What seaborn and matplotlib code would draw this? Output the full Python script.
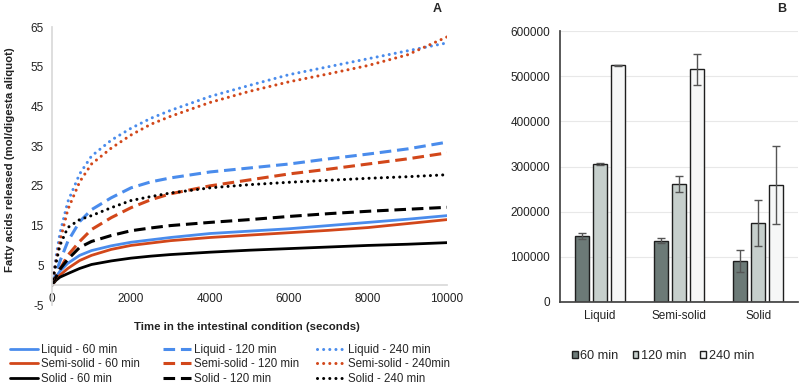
import matplotlib
matplotlib.use("Agg")
import matplotlib.pyplot as plt
import seaborn as sns
import pandas as pd
import numpy as np

# ---------------- Panel A data ----------------
time_s = [0, 100, 200, 400, 700, 1000, 1500, 2000, 2500, 3000, 4000, 5000,
          6000, 7000, 8000, 9000, 10000]

liquid_60 = [0, 2.0, 3.5, 5.5, 7.5, 8.7, 9.9, 10.8, 11.4, 12.0, 13.0, 13.6,
             14.2, 15.0, 15.8, 16.6, 17.5]
semisolid_60 = [0, 1.5, 2.5, 4.2, 6.2, 7.5, 9.0, 10.0, 10.6, 11.2, 12.0, 12.6,
                13.2, 13.8, 14.5, 15.5, 16.5]
solid_60 = [0, 1.2, 2.0, 2.9, 4.2, 5.2, 6.1, 6.8, 7.3, 7.7, 8.3, 8.8,
            9.2, 9.6, 10.0, 10.3, 10.7]

liquid_120 = [0, 3.0, 6.0, 11.0, 16.0, 19.0, 22.0, 24.5, 26.0, 27.0, 28.5, 29.5,
              30.5, 31.8, 33.0, 34.3, 36.0]
semisolid_120 = [0, 2.0, 4.0, 7.5, 11.0, 14.0, 17.0, 19.5, 21.5, 23.0, 25.0, 26.5,
                 28.0, 29.2, 30.5, 31.8, 33.3]
solid_120 = [0, 2.0, 4.0, 6.5, 9.5, 11.0, 12.5, 13.7, 14.4, 15.0, 15.8, 16.5,
             17.3, 18.0, 18.6, 19.1, 19.6]

liquid_240 = [0, 7.0, 13.0, 21.0, 28.0, 32.5, 36.5, 39.5, 42.0, 44.0, 47.5, 50.3,
              53.0, 55.0, 57.0, 59.0, 61.0]
semisolid_240 = [0, 6.0, 11.0, 19.0, 26.0, 30.5, 34.5, 37.8, 40.5, 42.5, 46.0, 48.8,
                 51.2, 53.2, 55.3, 58.0, 62.5]
solid_240 = [0, 5.5, 10.0, 14.5, 16.5, 17.5, 19.5, 21.3, 22.3, 23.2, 24.5, 25.3,
             25.9, 26.4, 26.9, 27.3, 27.8]

# ---------------- Panel B data ----------------
forms = ["Liquid", "Semi-solid", "Solid"]
times = ["60 min", "120 min", "240 min"]
bar_60 = [146000, 136000, 91000]
bar_120 = [305500, 261000, 174000]
bar_240 = [524500, 515000, 259000]
err_60 = [6500, 5500, 25000]
err_120 = [3000, 17000, 51000]
err_240 = [1000, 35000, 87000]

# ---------------- Figure ----------------
sns.set_theme(style="white")
plt.rcParams["font.family"] = ["Liberation Sans", "DejaVu Sans"]
plt.rcParams["font.size"] = 8
plt.rcParams["axes.unicode_minus"] = False

W, H = 803, 384
fig = plt.figure(figsize=(W / 100, H / 100), dpi=100)

def axes_px(left, top, right, bottom):
    return fig.add_axes([left / W, 1 - bottom / H, (right - left) / W, (bottom - top) / H])

BLUE = "#4a8cec"
ORANGE = "#d2471a"
BLACK = "#000000"

# ---- Panel A ----
axA = axes_px(52, 27, 447, 305)
series = [
    ("Liquid - 60 min", liquid_60, BLUE, "solid"),
    ("Semi-solid - 60 min", semisolid_60, ORANGE, "solid"),
    ("Solid - 60 min", solid_60, BLACK, "solid"),
    ("Liquid - 120 min", liquid_120, BLUE, "dashed"),
    ("Semi-solid - 120 min", semisolid_120, ORANGE, "dashed"),
    ("Solid - 120 min", solid_120, BLACK, "dashed"),
    ("Liquid - 240 min", liquid_240, BLUE, "dotted"),
    ("Semi-solid - 240min", semisolid_240, ORANGE, "dotted"),
    ("Solid - 240 min", solid_240, BLACK, "dotted"),
]
styles = {
    "solid": dict(linestyle="-", linewidth=2.0),
    "dashed": dict(linestyle=(0, (3.8, 1.9)), linewidth=2.2),
    "dotted": dict(linestyle=(0, (0.01, 2.0)), linewidth=2.2, dash_capstyle="round"),
}
for label, vals, col, st in series:
    sns.lineplot(x=time_s, y=vals, ax=axA, color=col, label=label, **styles[st])

axA.set_xlim(0, 10000)
axA.set_ylim(-5, 65)
axA.set_xticks(range(0, 10001, 2000))
axA.set_yticks(range(-5, 66, 10))
for s in ["top", "right"]:
    axA.spines[s].set_visible(False)
axA.spines["left"].set_color("#d9d9d9")
axA.spines["bottom"].set_color("#d9d9d9")
axA.spines["bottom"].set_position(("data", 0))
axA.tick_params(axis="both", length=0, labelsize=8.5, colors="#222222")
axA.tick_params(axis="x", pad=5.5)
axA.tick_params(axis="y", pad=6)
axA.set_xlabel("")
axA.set_ylabel("")
axA.grid(False)
fig.text(247 / W, 1 - 327 / H, "Time in the intestinal condition (seconds)",
         ha="center", va="center", fontsize=8.2, fontweight="bold", color="#222222")
fig.text(10 / W, 1 - 160 / H, "Fatty acids released (mol/digesta aliquot)",
         ha="center", va="center", rotation=90, fontsize=8.2, fontweight="bold", color="#222222")
fig.text(437 / W, 1 - 9 / H, "A", ha="center", va="center", fontsize=9, fontweight="bold")

hA, lA = axA.get_legend_handles_labels()
axA.get_legend().remove()
col_x = [10, 163, 317]
for ci in range(3):
    fig.legend(hA[ci * 3:(ci + 1) * 3], lA[ci * 3:(ci + 1) * 3], ncol=1, loc="upper left",
               bbox_to_anchor=(col_x[ci] / W, 1 - 344 / H),
               frameon=False, fontsize=8.3, handlelength=2.45, handletextpad=0.25,
               labelspacing=0.2, borderpad=0, borderaxespad=0)

# ---- Panel B ----
axB = axes_px(560, 31, 798, 302)
df = pd.DataFrame({
    "form": forms * 3,
    "time": [times[0]] * 3 + [times[1]] * 3 + [times[2]] * 3,
    "value": bar_60 + bar_120 + bar_240,
    "err": err_60 + err_120 + err_240,
})
pal = {"60 min": "#6c7a77", "120 min": "#c6cfcc", "240 min": "#f6f7f7"}
sns.barplot(data=df, x="form", y="value", hue="time", order=forms, hue_order=times,
            palette=pal, width=0.684, gap=0.22, edgecolor="#1e1e1e", linewidth=1.0,
            errorbar=None, ax=axB, saturation=1)
for cont, t in zip(axB.containers, times):
    sub = df[df["time"] == t].set_index("form").loc[forms]
    xs = [p.get_x() + p.get_width() / 2 for p in cont.patches]
    axB.errorbar(xs, sub["value"].values, yerr=sub["err"].values, fmt="none",
                 ecolor="#555555", elinewidth=1.0, capsize=3, capthick=1.0, zorder=5)

axB.set_xlim(-0.5, 2.5)
axB.set_ylim(0, 600000)
axB.set_yticks(range(0, 600001, 100000))
axB.yaxis.grid(True, color="#e8e8e8", linewidth=0.8)
axB.set_axisbelow(True)
for s in ["top", "right"]:
    axB.spines[s].set_visible(False)
axB.spines["left"].set_color("#444444")
axB.spines["bottom"].set_color("#444444")
axB.tick_params(axis="both", length=0, labelsize=8.5, colors="#222222")
axB.tick_params(axis="x", pad=6)
axB.tick_params(axis="y", pad=7)
axB.set_xlabel("")
axB.set_ylabel("")
fig.text(782 / W, 1 - 9 / H, "B", ha="center", va="center", fontsize=9, fontweight="bold")

hB, lB = axB.get_legend_handles_labels()
axB.get_legend().remove()
fig.legend(hB, lB, ncol=3, loc="center left", bbox_to_anchor=(572 / W, 1 - 356 / H),
           frameon=False, fontsize=9.2, handlelength=0.45, handleheight=0.45,
           handletextpad=0.2, columnspacing=1.1, borderpad=0, borderaxespad=0)

fig.savefig("out.png", dpi=100)
